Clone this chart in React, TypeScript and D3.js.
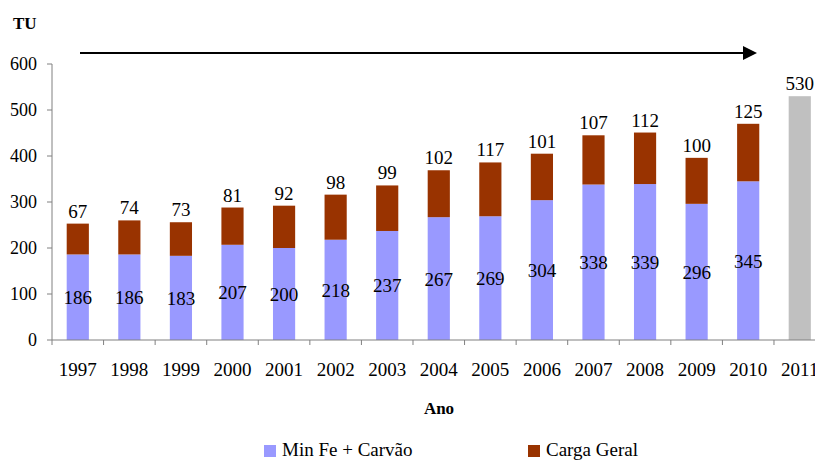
import React from "react";
import * as d3 from "d3";

const years = ["1997","1998","1999","2000","2001","2002","2003","2004","2005","2006","2007","2008","2009","2010","2011"];
const minFe = [186,186,183,207,200,218,237,267,269,304,338,339,296,345];
const cargaGeral = [67,74,73,81,92,98,99,102,117,101,107,112,100,125];
const forecastYear = "2011";
const forecastTotal = 530;
const yTicks = [0,100,200,300,400,500,600];
const legendLabels = ["Min Fe + Carvão", "Carga Geral"];

const W = 815, H = 461;
const FONT = "Liberation Serif, DejaVu Serif, serif";
const C_MIN = "#9999FF", C_CG = "#993300", C_GRAY = "#C0C0C0", C_AXIS = "#808080";

export default function App() {
  const x0 = 52, step = 51.57;
  const x = d3.scaleBand<string>().domain(years).range([x0, x0 + step * years.length]).paddingInner(0.57).paddingOuter(0.285);
  const y = d3.scaleLinear().domain([0, 600]).range([340, 64]);
  const bw = x.bandwidth();
  const cx = (yr: string) => (x(yr) as number) + bw / 2;
  const ts = { fontFamily: FONT };

  return (
    <svg width={W} height={H} style={{ position: "absolute", left: 0, top: 0, background: "#fff", fontFamily: FONT }}>
      <text x={13} y={29} fontSize={17} fontWeight="bold" style={ts}>TU</text>
      <line x1={80} y1={53} x2={745} y2={53} stroke="#000" strokeWidth={2} />
      <path d="M743,46 L757,53 L743,60 Z" fill="#000" />
      <line x1={x0} y1={y(600)} x2={x0} y2={y(0)} stroke={C_AXIS} strokeWidth={1} />
      {yTicks.map(t => (
        <g key={t}>
          <line x1={x0 - 5} x2={x0} y1={y(t)} y2={y(t)} stroke={C_AXIS} />
          <text x={37} y={y(t) + 6} fontSize={18} textAnchor="end" style={ts}>{t}</text>
        </g>
      ))}
      {minFe.map((v, i) => {
        const yr = years[i];
        const cg = cargaGeral[i];
        const top = y(v + cg);
        return (
          <g key={yr}>
            <rect x={x(yr)} y={y(v)} width={bw} height={y(0) - y(v)} fill={C_MIN} />
            <rect x={x(yr)} y={top} width={bw} height={y(v) - top} fill={C_CG} />
            <text x={cx(yr)} y={(y(0) + y(v)) / 2 + 7} fontSize={19} textAnchor="middle" style={ts}>{v}</text>
            <text x={cx(yr)} y={top - 6} fontSize={19} textAnchor="middle" style={ts}>{cg}</text>
          </g>
        );
      })}
      <rect x={x(forecastYear)} y={y(forecastTotal)} width={bw} height={y(0) - y(forecastTotal)} fill={C_GRAY} />
      <text x={cx(forecastYear)} y={y(forecastTotal) - 6} fontSize={19} textAnchor="middle" style={ts}>{forecastTotal}</text>
      <line x1={x0} x2={W} y1={y(0)} y2={y(0)} stroke={C_AXIS} />
      {years.map((yr, i) => (
        <g key={yr}>
          <line x1={x0 + i * step} x2={x0 + i * step} y1={y(0)} y2={y(0) + 5} stroke={C_AXIS} />
          <text x={cx(yr)} y={376} fontSize={19} textAnchor="middle" style={ts}>{yr}</text>
        </g>
      ))}
      <text x={439} y={414} fontSize={17} fontWeight="bold" textAnchor="middle" style={ts}>Ano</text>
      <rect x={264} y={445} width={12} height={12} fill={C_MIN} />
      <text x={282} y={456} fontSize={19} style={ts}>{legendLabels[0]}</text>
      <rect x={528} y={445} width={12} height={12} fill={C_CG} />
      <text x={546} y={456} fontSize={19} style={ts}>{legendLabels[1]}</text>
    </svg>
  );
}
